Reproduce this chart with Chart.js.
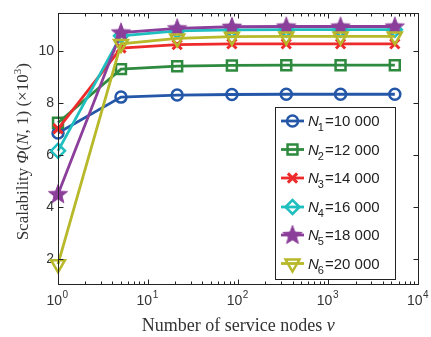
<!DOCTYPE html>
<html>
<head>
<meta charset="utf-8">
<script src="https://cdn.jsdelivr.net/npm/chart.js@4"></script>
<style>
html,body{margin:0;padding:0;background:#fff;}
canvas{display:block;}
</style>
</head>
<body>
<canvas id="c" width="431" height="337"></canvas>
<script>
// ---- data ----
const X_VALUES = [1, 5, 21, 85, 341, 1365, 5461];
const SERIES_LABELS = ['10 000', '12 000', '14 000', '16 000', '18 000', '20 000'];
const N1 = [6.86, 8.24, 8.32, 8.34, 8.35, 8.35, 8.35];
const N2 = [7.25, 9.32, 9.43, 9.46, 9.47, 9.47, 9.47];
const N3 = [7.02, 10.13, 10.26, 10.29, 10.29, 10.29, 10.29];
const N4 = [6.17, 10.60, 10.79, 10.83, 10.84, 10.84, 10.84];
const N5 = [4.50, 10.73, 10.89, 10.95, 10.96, 10.96, 10.96];
const N6 = [1.80, 10.29, 10.50, 10.57, 10.58, 10.58, 10.58];
const Y_TICKS = [2, 4, 6, 8, 10];
const X_MAJOR = [1, 10, 100, 1000, 10000];

const COLORS = ['#2457a8', '#2e8a3e', '#ee2b2b', '#20bfbf', '#8c3f9a', '#b7b82a'];

// filled star marker
function makeStar(color) {
  const c = document.createElement('canvas');
  c.width = 22; c.height = 22;
  const g = c.getContext('2d');
  const cx = 11, cy = 11.5, ro = 10, ri = 4.2;
  g.beginPath();
  for (let i = 0; i < 10; i++) {
    const r = i % 2 === 0 ? ro : ri;
    const a = -Math.PI / 2 + i * Math.PI / 5;
    const px = cx + r * Math.cos(a), py = cy + r * Math.sin(a);
    if (i === 0) g.moveTo(px, py); else g.lineTo(px, py);
  }
  g.closePath();
  g.fillStyle = color;
  g.fill();
  g.lineWidth = 1;
  g.strokeStyle = color;
  g.stroke();
  return c;
}
const STAR = makeStar(COLORS[4]);

const MARKERS = [
  {pointStyle: 'circle', radius: 5.5, rotation: 0},
  {pointStyle: 'rect', radius: 7, rotation: 0},
  {pointStyle: 'crossRot', radius: 6.5, rotation: 0},
  {pointStyle: 'rectRot', radius: 7, rotation: 0},
  {pointStyle: STAR, radius: 10, rotation: 0},
  {pointStyle: 'triangle', radius: 8, rotation: 180}
];

const ALL = [N1, N2, N3, N4, N5, N6];
const datasets = ALL.map((arr, i) => ({
  label: 'N' + (i + 1) + '=' + SERIES_LABELS[i],
  data: X_VALUES.map((x, j) => ({x: x, y: arr[j]})),
  borderColor: COLORS[i],
  backgroundColor: 'rgba(0,0,0,0)',
  borderWidth: 2.8,
  pointStyle: MARKERS[i].pointStyle,
  pointRadius: MARKERS[i].radius,
  pointRotation: MARKERS[i].rotation,
  pointBorderWidth: i === 2 ? 3 : 2.5,
  pointBorderColor: COLORS[i],
  pointBackgroundColor: 'rgba(0,0,0,0)',
  tension: 0,
  clip: false,
  order: 6 - i
}));

const decor = {
  id: 'decor',
  afterDraw(chart) {
    const ctx = chart.ctx;
    const a = chart.chartArea;
    const xs = chart.scales.x, ys = chart.scales.y;
    ctx.save();
    // frame
    ctx.strokeStyle = '#222';
    ctx.lineWidth = 1;
    const L = Math.round(a.left) + 0.5, R = Math.round(a.right) - 0.5;
    const T = Math.round(a.top) + 0.5, B = Math.round(a.bottom) - 0.5;
    ctx.strokeRect(L, T, R - L, B - T);
    // x ticks
    ctx.beginPath();
    for (let k = 0; k < 4; k++) {
      for (let m = 1; m <= 9; m++) {
        const v = m * Math.pow(10, k);
        const px = Math.round(xs.getPixelForValue(v)) + 0.5;
        const len = m === 1 ? 5 : 3;
        ctx.moveTo(px, B); ctx.lineTo(px, B - len);
        ctx.moveTo(px, T); ctx.lineTo(px, T + len);
      }
    }
    // y ticks
    Y_TICKS.forEach(v => {
      const py = Math.round(ys.getPixelForValue(v)) + 0.5;
      ctx.moveTo(L, py); ctx.lineTo(L + 5, py);
      ctx.moveTo(R, py); ctx.lineTo(R - 5, py);
    });
    ctx.stroke();

    // x tick labels 10^k
    ctx.fillStyle = '#333';
    ctx.textBaseline = 'alphabetic';
    X_MAJOR.forEach((v, k) => {
      const px = xs.getPixelForValue(v);
      ctx.font = '14px "Liberation Sans", Arial, sans-serif';
      const w1 = ctx.measureText('10').width;
      ctx.font = '10px "Liberation Sans", Arial, sans-serif';
      const w2 = ctx.measureText(String(k)).width;
      const x0 = px - (w1 + w2) / 2 - 1;
      ctx.font = '14px "Liberation Sans", Arial, sans-serif';
      ctx.textAlign = 'left';
      ctx.fillText('10', x0, 305);
      ctx.font = '10px "Liberation Sans", Arial, sans-serif';
      ctx.fillText(String(k), x0 + w1 + 0.5, 298);
    });

    // x title
    ctx.fillStyle = '#333';
    const xParts = [
      {t: 'Number of service nodes ', f: '18px "Liberation Serif", "Times New Roman", serif'},
      {t: 'v', f: 'italic 18px "Liberation Serif", "Times New Roman", serif'}
    ];
    drawParts(ctx, xParts, (a.left + a.right) / 2, 331);

    // y title (rotated)
    ctx.save();
    ctx.translate(22, (a.top + a.bottom) / 2 + 3);
    ctx.rotate(-Math.PI / 2);
    const sf = '17px "Liberation Serif", "Times New Roman", serif';
    const si = 'italic 17px "Liberation Serif", "Times New Roman", serif';
    const yParts = [
      {t: 'Scalability ', f: sf},
      {t: '\u03A6', f: si},
      {t: '(', f: sf},
      {t: 'N', f: si},
      {t: ', 1) (\u00D710', f: sf},
      {t: '3', f: '11px "Liberation Serif", "Times New Roman", serif', dy: -7},
      {t: ')', f: sf}
    ];
    drawParts(ctx, yParts, 0, 6);
    ctx.restore();

    // legend
    const lx = 275.5, ly = 107.5, lw = 120, lh = 172;
    ctx.fillStyle = '#fff';
    ctx.fillRect(lx, ly, lw, lh);
    ctx.strokeStyle = '#222';
    ctx.lineWidth = 1;
    ctx.strokeRect(lx, ly, lw, lh);
    const rowY = [121, 149.5, 178, 207, 235, 263.5];
    datasets.forEach((ds, i) => {
      const y = rowY[i];
      ctx.strokeStyle = ds.borderColor;
      ctx.lineWidth = ds.borderWidth;
      ctx.beginPath();
      ctx.moveTo(281, y); ctx.lineTo(304, y);
      ctx.stroke();
      ctx.fillStyle = 'rgba(0,0,0,0)';
      ctx.lineWidth = ds.pointBorderWidth;
      Chart.helpers.drawPoint(ctx, {
        pointStyle: ds.pointStyle,
        radius: ds.pointRadius,
        rotation: ds.pointRotation,
        borderWidth: ds.pointBorderWidth
      }, 292.5, y);
      ctx.fillStyle = '#222';
      ctx.textAlign = 'left';
      let x = 308;
      ctx.font = 'italic 15px "Liberation Sans", Arial, sans-serif';
      ctx.fillText('N', x, y + 5);
      x += ctx.measureText('N').width;
      ctx.font = '11px "Liberation Sans", Arial, sans-serif';
      ctx.fillText(String(i + 1), x - 1, y + 10);
      x += ctx.measureText(String(i + 1)).width;
      ctx.font = '15px "Liberation Sans", Arial, sans-serif';
      ctx.fillText('=' + SERIES_LABELS[i], x, y + 5);
    });
    ctx.restore();
  }
};

function drawParts(ctx, parts, cx, baseY) {
  let total = 0;
  parts.forEach(p => { ctx.font = p.f; p.w = ctx.measureText(p.t).width; total += p.w; });
  let x = cx - total / 2;
  ctx.textAlign = 'left';
  parts.forEach(p => {
    ctx.font = p.f;
    ctx.fillText(p.t, x, baseY + (p.dy || 0));
    x += p.w;
  });
}

new Chart(document.getElementById('c'), {
  type: 'line',
  data: {datasets: datasets},
  options: {
    responsive: false,
    animation: false,
    devicePixelRatio: 1,
    layout: {padding: {top: 8, right: 10, left: 0, bottom: 0}},
    plugins: {legend: {display: false}, tooltip: {enabled: false}},
    scales: {
      x: {
        type: 'logarithmic',
        min: 1, max: 10000,
        grid: {display: false, drawTicks: false},
        border: {display: false},
        ticks: {display: false},
        afterFit: s => { s.height = 52; }
      },
      y: {
        type: 'linear',
        min: 1, max: 11.5,
        grid: {display: false, drawTicks: false},
        border: {display: false},
        afterBuildTicks: s => { s.ticks = Y_TICKS.map(v => ({value: v})); },
        ticks: {
          color: '#333',
          padding: 4,
          font: {family: '"Liberation Sans", Arial, sans-serif', size: 14}
        },
        afterFit: s => { s.width = 58; }
      }
    }
  },
  plugins: [decor]
});
</script>
</body>
</html>
